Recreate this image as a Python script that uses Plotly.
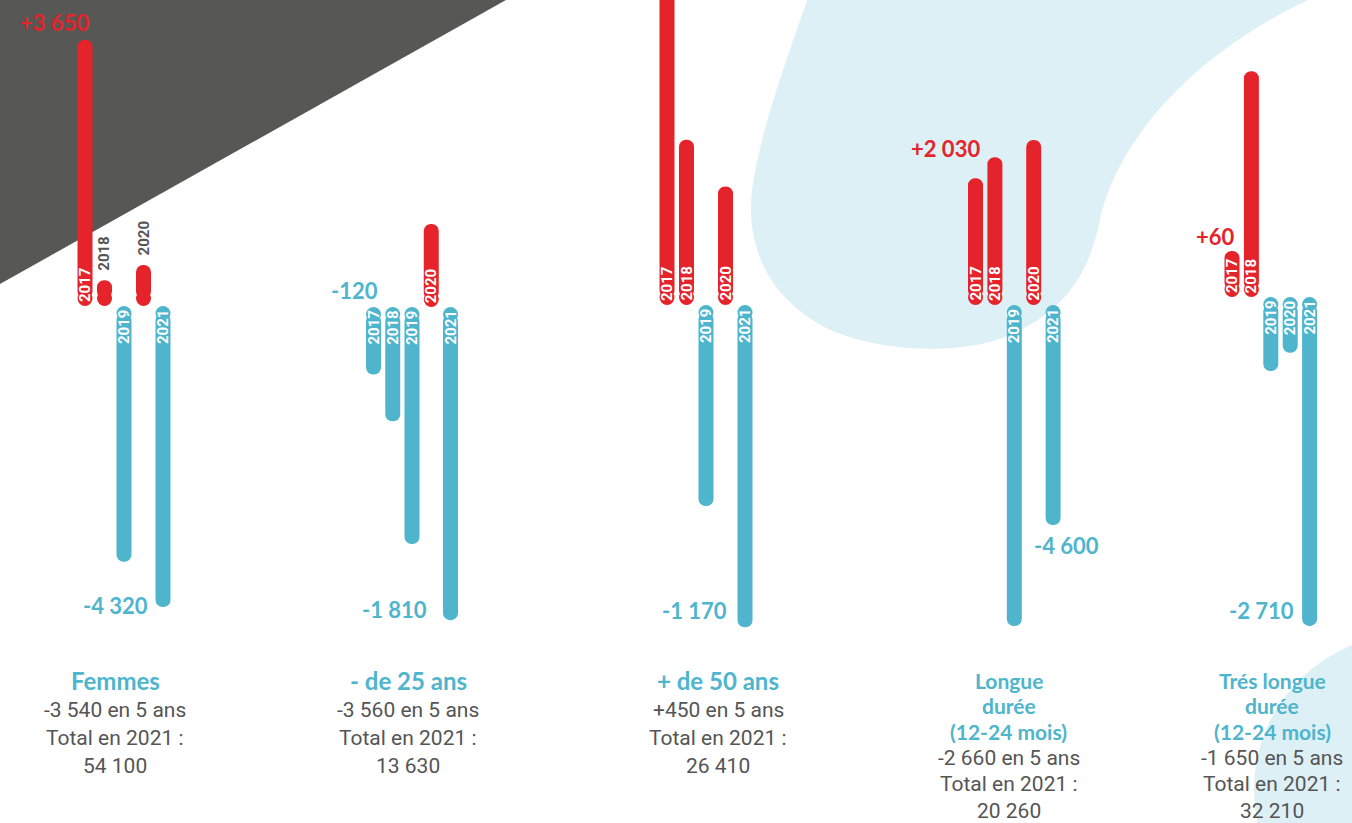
import plotly.graph_objects as go

W, H = 1352, 823

# ---------------- data ----------------
years = ["2017", "2018", "2019", "2020", "2021"]

title_lines = [
    ["Femmes"],
    ["- de 25 ans"],
    ["+ de 50 ans"],
    ["Longue", "durée", "(12-24 mois)"],
    ["Trés longue", "durée", "(12-24 mois)"],
]

# yearly variation drawn by each bar (per group)
femmes = [3820, 370, -3670, 590, -4320]
moins_25 = [-390, -660, -1370, 480, -1810]
plus_50 = [1220, 600, -730, 430, -1170]
longue = [2650, 3090, -6710, 3450, -4600]
tres_longue = [380, 1860, -610, -460, -2710]
series = [femmes, moins_25, plus_50, longue, tres_longue]

change_5y = ["-3 540", "-3 560", "+450", "-2 660", "-1 650"]
total_2021 = ["54 100", "13 630", "26 410", "20 260", "32 210"]

first_labels = ["+3 650", "-120", None, "+2 030", "+60"]
last_labels = ["-4 320", "-1 810", "-1 170", "-4 600", "-2 710"]

# ---------------- layout constants ----------------
RED = "#E5232A"
BLUE = "#4EB5CD"
GREY_TXT = "#555555"
DARK = "#575756"
LIGHT = "#DDF0F6"

first_center = [85, 373.5, 667, 975.5, 1232]
spacing = [19.5, 19.25, 19.5, 19.4, 19.4]
baseline = [306, 307, 305, 305, 297]
units_per_px = [14.35, 5.78, 3.63, 20.9, 8.24]
BAR_W = 15
R_PX = BAR_W / 2

text_center = [115, 408, 718, 1009, 1272]
first_pos = [(91, 22, "right"), (380, 290, "right"), None, (982, 148, "right"), (1237, 237, "right")]
last_pos = [(150, 605, "right"), (429, 609, "right"), (729, 610, "right"), (1032, 545, "left"), (1296, 610, "right")]


def px(x):
    return x / W


def py(y):
    return 1 - y / H


fig = go.Figure()
annotations = []
layout_axes = {}

for g, vals in enumerate(series):
    n = g + 1
    xa = "x" if n == 1 else f"x{n}"
    ya = "y" if n == 1 else f"y{n}"
    s = spacing[g]
    k = units_per_px[g]
    b = baseline[g]
    left = first_center[g] - s / 2
    right = left + 5 * s
    layout_axes["xaxis" if n == 1 else f"xaxis{n}"] = dict(
        domain=[px(left), px(right)], type="category", categoryorder="array",
        categoryarray=years, range=[-0.5, 4.5], visible=False, fixedrange=True,
        anchor=ya)
    layout_axes["yaxis" if n == 1 else f"yaxis{n}"] = dict(
        domain=[0, 1], range=[-(H - b) * k, b * k], visible=False,
        fixedrange=True, anchor=xa)
    colors = [RED if v > 0 else BLUE for v in vals]
    r_units = R_PX * k
    starts = [r_units if v > 0 else -r_units for v in vals]
    # bar body, rounded at the value end
    fig.add_trace(go.Bar(x=years, y=[v - s0 for v, s0 in zip(vals, starts)], base=starts,
                         xaxis=xa, yaxis=ya, width=BAR_W / s,
                         marker=dict(color=colors, cornerradius="50%", line_width=0),
                         hoverinfo="skip"))
    # round cap at the baseline end
    fig.add_trace(go.Scatter(x=years, y=starts, xaxis=xa, yaxis=ya, mode="markers",
                             marker=dict(color=colors, size=BAR_W, line_width=0),
                             hoverinfo="skip"))
    # year labels
    for i, (yr, v) in enumerate(zip(years, vals)):
        length_px = abs(v) / k
        if length_px >= 44:
            annotations.append(dict(
                x=i, y=0, xref=xa, yref=ya, text=yr, showarrow=False, textangle=-90,
                yanchor="bottom" if v > 0 else "top", xanchor="center",
                yshift=2 if v > 0 else -2,
                font=dict(family="Roboto", size=15, color="white", weight="bold")))
        else:
            annotations.append(dict(
                x=i, y=v, xref=xa, yref=ya, text=yr, showarrow=False, textangle=-90,
                yanchor="bottom", xanchor="center", yshift=7,
                font=dict(family="Roboto", size=15, color=GREY_TXT, weight="bold")))
    # value labels
    if first_labels[g] is not None:
        fx, fy, fa = first_pos[g]
        col = RED if first_labels[g].startswith("+") else BLUE
        annotations.append(dict(x=px(fx), y=py(fy), xref="paper", yref="paper",
                                text=first_labels[g], showarrow=False, xanchor=fa, yanchor="middle",
                                font=dict(family="Lato", size=22, color=col, weight="bold")))
    lx, ly, la = last_pos[g]
    annotations.append(dict(x=px(lx), y=py(ly), xref="paper", yref="paper",
                            text=last_labels[g], showarrow=False, xanchor=la, yanchor="middle",
                            font=dict(family="Lato", size=22, color=BLUE, weight="bold")))
    # title + text block
    cx = text_center[g]
    lines = title_lines[g]
    multi = len(lines) > 1
    t_size = 21 if multi else 24
    t_step = 25.5
    y = 680
    for ln in lines:
        annotations.append(dict(x=px(cx), y=py(y), xref="paper", yref="paper", text=ln,
                                showarrow=False, xanchor="center", yanchor="middle", borderpad=0,
                                font=dict(family="Lato", size=t_size, color=BLUE, weight="bold")))
        y += t_step
    y += 1 if multi else 4
    b_step = 26.5 if multi else 28
    for line in [f"{change_5y[g]} en 5 ans", "Total en 2021 :", total_2021[g]]:
        annotations.append(dict(x=px(cx), y=py(y), xref="paper", yref="paper", text=line,
                                showarrow=False, xanchor="center", yanchor="middle", borderpad=0,
                                font=dict(family="Roboto", size=21, color=GREY_TXT)))
        y += b_step


def path(points):
    out = []
    for cmd, pts in points:
        out.append(cmd + " " + " ".join(f"{px(x):.5f},{py(y):.5f}" for x, y in pts))
    return " ".join(out) + " Z"


triangle = path([("M", [(0, 0)]), ("L", [(506, 0)]), ("L", [(0, 284)])])
blob = path([
    ("M", [(808, -2)]),
    ("C", [(790, 50), (760, 130), (752, 190)]),
    ("C", [(745, 255), (775, 305), (835, 332)]),
    ("C", [(885, 352), (965, 356), (1012, 334)]),
    ("C", [(1070, 308), (1090, 268), (1100, 220)]),
    ("C", [(1115, 150), (1180, 60), (1312, -2)]),
])

shapes = [
    dict(type="path", path=triangle, xref="paper", yref="paper", fillcolor=DARK,
         line=dict(width=0), layer="below"),
    dict(type="path", path=blob, xref="paper", yref="paper", fillcolor=LIGHT,
         line=dict(width=0), layer="below"),
    dict(type="circle", xref="paper", yref="paper", x0=px(1254), x1=px(1566),
         y0=py(946), y1=py(634), fillcolor=LIGHT, line=dict(width=0), layer="below"),
]

fig.update_layout(
    width=W, height=H, margin=dict(l=0, r=0, t=0, b=0, pad=0),
    paper_bgcolor="white", plot_bgcolor="rgba(0,0,0,0)",
    barmode="overlay", showlegend=False, hovermode=False,
    annotations=annotations, shapes=shapes, **layout_axes)

fig.write_html("out.html", config={"displayModeBar": False},
               post_script="document.body.style.margin='0';document.body.style.overflow='hidden';")
